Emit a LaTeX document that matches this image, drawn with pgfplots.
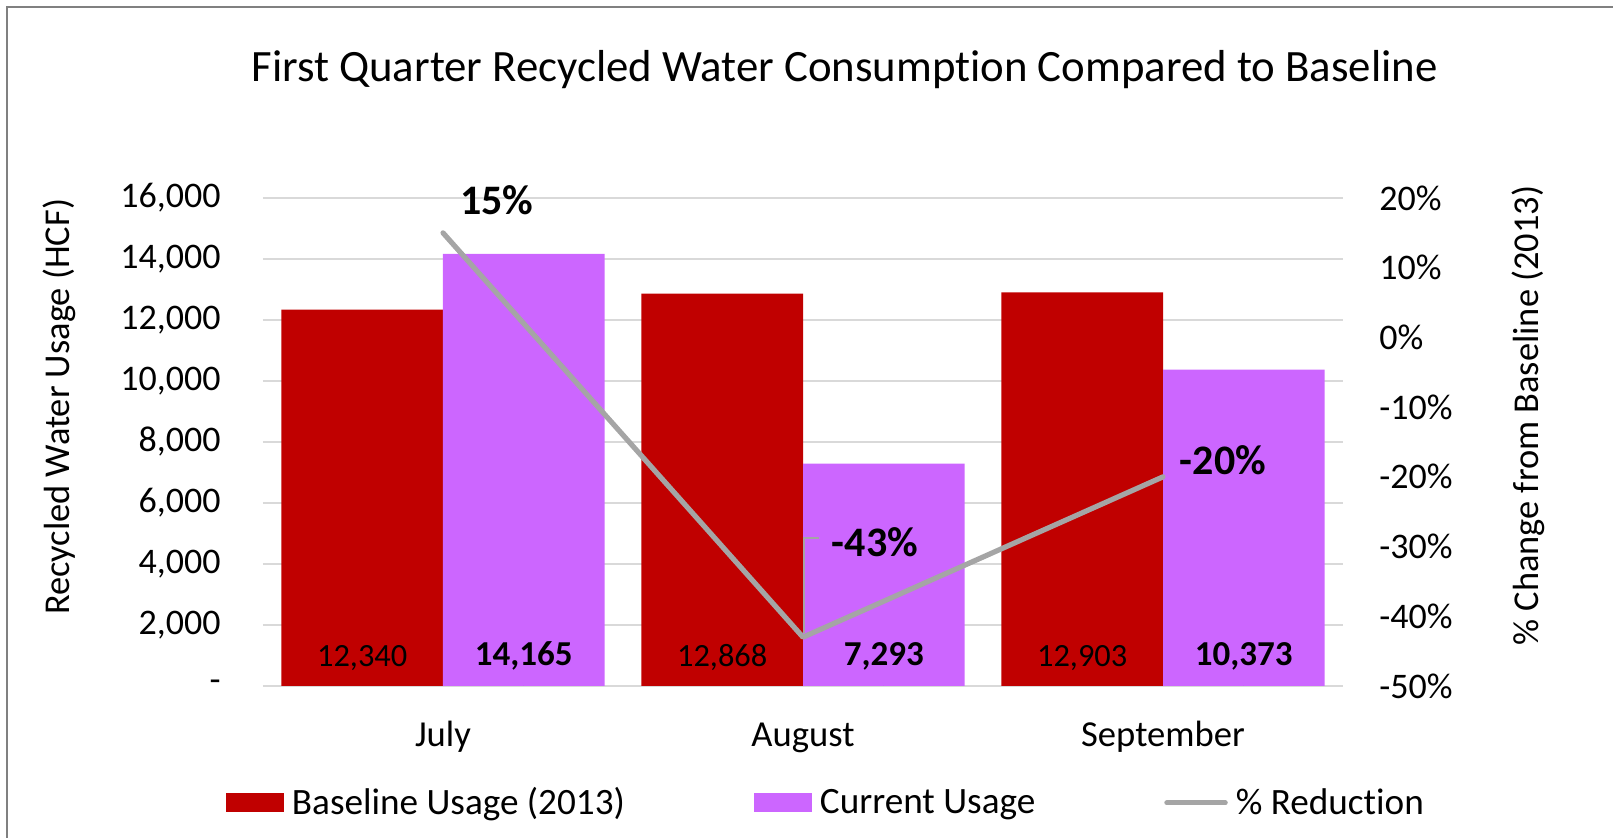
\documentclass[border=0pt]{standalone}
\usepackage{fontspec}
\setmainfont{Carlito}[Ligatures=NoCommon]
\usepackage{pgfplots}
\pgfplotsset{compat=1.18}
\usepackage{pgfplotstable}
\definecolor{barred}{HTML}{C00000}
\definecolor{barpurple}{HTML}{CC66FF}
\definecolor{linegray}{HTML}{A5A5A5}
\definecolor{gridgray}{HTML}{D9D9D9}
\definecolor{framegray}{HTML}{808080}
\newcommand\fs[1]{\fontsize{#1}{#1}\selectfont}

\pgfplotstableread{
idx value
0 12340
1 12868
2 12903
}\baseline
\pgfplotstableread{
idx value
0 14165
1 7293
2 10373
}\current
\pgfplotstableread{
idx change dx dy
0 0.15 27 16.5
1 -0.43 36 47.5
2 -0.20 30 8.5
}\reduction

\begin{document}
\begin{tikzpicture}[x=1pt,y=1pt]
\useasboundingbox (0,0) rectangle (806.5,419);
\draw[framegray, line width=1pt] (3.5,-5) -- (3.5,415.5) -- (812,415.5);
\node[anchor=base, font=\fs{22.4}, inner sep=0pt] at (422.3,378.25) {First Quarter Recycled Water Consumption Compared to Baseline};
\node[rotate=90, anchor=center, font=\fs{18.2}, inner sep=0pt] at (29.5,215.5) {Recycled Water Usage (HCF)};
\node[rotate=90, anchor=center, font=\fs{18.2}, inner sep=0pt] at (764,211.2) {\% Change from Baseline (2013)};

\begin{axis}[
  at={(131.5pt,76pt)}, anchor=south west,
  scale only axis, width=540pt, height=244pt,
  xmin=-0.5, xmax=2.5, ymin=0, ymax=16000,
  clip=false,
  scaled y ticks=false,
  axis x line*=bottom, axis y line*=left,
  axis line style={draw=none},
  major tick length=0pt,
  xtick={0,1,2}, xticklabels={July,August,September},
  ytick={0,2000,4000,6000,8000,10000,12000,14000,16000},
  yticklabels={-,{2,000},{4,000},{6,000},{8,000},{10,000},{12,000},{14,000},{16,000}},
  yticklabel style={font=\fs{18}, anchor=east, inner sep=0pt, xshift=-21pt},
  xticklabel style={font=\fs{18.3}, anchor=base, inner sep=0pt, yshift=-30.5pt},
  ymajorgrids, grid style={gridgray, line width=1pt},
  legend columns=3,
  legend cell align=left,
  legend style={at={(-0.0343,-0.2395)}, anchor=west, draw=none, fill=none,
    inner sep=0pt, outer sep=0pt, font=\fs{18.6},
    nodes={inner sep=0pt},
    /tikz/every odd column/.append style={column sep=4pt},
    /tikz/every even column/.append style={column sep=64.5pt}},
]
\addplot[ybar, bar width=0.449, bar shift=-0.2245, fill=barred, draw=none,
  legend image code/.code={\fill[barred] (0pt,-4.75pt) rectangle (29pt,4.75pt);}]
  table[x=idx, y=value] {\baseline};
\addlegendentry{Baseline Usage (2013)}
\addplot[ybar, bar width=0.449, bar shift=0.2245, fill=barpurple, draw=none,
  legend image code/.code={\fill[barpurple] (0pt,-4.75pt) rectangle (29pt,4.75pt);}]
  table[x=idx, y=value] {\current};
\addlegendentry{Current Usage}
\addlegendimage{legend image code/.code={\draw[linegray, line width=2.5pt, line cap=round] (1.25pt,0pt) -- (30.5pt,0pt);}}
\addlegendentry{\% Reduction}
% value labels at the foot of the bars
\addplot[forget plot, only marks, mark=*, mark size=0pt, mark options={draw=none, fill=none},
  point meta=explicit,
  nodes near coords={\pgfmathprintnumber[assume math mode=true, fixed, precision=0, 1000 sep={,}]{\pgfplotspointmeta}},
  nodes near coords style={anchor=base, yshift=9.5pt, font=\fs{16.2}, inner sep=0pt, text=black}]
  table[x expr=\thisrow{idx}-0.2245, y expr=0, meta=value] {\baseline};
\addplot[forget plot, only marks, mark=*, mark size=0pt, mark options={draw=none, fill=none},
  point meta=explicit,
  nodes near coords={\pgfmathprintnumber[assume math mode=true, fixed, precision=0, 1000 sep={,}]{\pgfplotspointmeta}},
  nodes near coords style={anchor=base, yshift=10pt, font=\bfseries\fs{17.5}, inner sep=0pt, text=black}]
  table[x expr=\thisrow{idx}+0.2245, y expr=0, meta=value] {\current};
\end{axis}

\begin{axis}[
  at={(131.5pt,76pt)}, anchor=south west,
  scale only axis, width=540pt, height=244pt,
  xmin=-0.5, xmax=2.5, ymin=-0.5, ymax=0.2,
  clip=false,
  axis x line=none, axis y line*=right,
  axis line style={draw=none},
  major tick length=0pt,
  ytick={-0.5,-0.4,-0.3,-0.2,-0.1,0,0.1,0.2},
  yticklabels={-50\%,-40\%,-30\%,-20\%,-10\%,0\%,10\%,20\%},
  yticklabel style={font=\fs{18}, anchor=west, inner sep=0pt, xshift=18pt},
]
\addplot[linegray, line width=2.6pt, line cap=round, line join=round, mark=none]
  table[x=idx, y=change] {\reduction};
\addplot[forget plot, only marks, mark=*, mark size=0pt, mark options={draw=none, fill=none},
  point meta=explicit,
  visualization depends on={\thisrow{dx} \as \dx},
  visualization depends on={\thisrow{dy} \as \dy},
  nodes near coords={\pgfmathprintnumber[assume math mode=true, fixed, precision=0]{\pgfplotspointmeta}\%},
  nodes near coords style={anchor=center, xshift=\dx pt, yshift=\dy pt, font=\bfseries\fs{21}, inner sep=0pt, text=black}]
  table[x=idx, y=change, meta expr=100*\thisrow{change}] {\reduction};
\draw[linegray, line width=0.75pt] ([xshift=0.5pt,yshift=2pt]axis cs:1,-0.43) -- ++(0pt,47.5pt) -- ++(7.5pt,0pt);
\end{axis}
\end{tikzpicture}
\end{document}
